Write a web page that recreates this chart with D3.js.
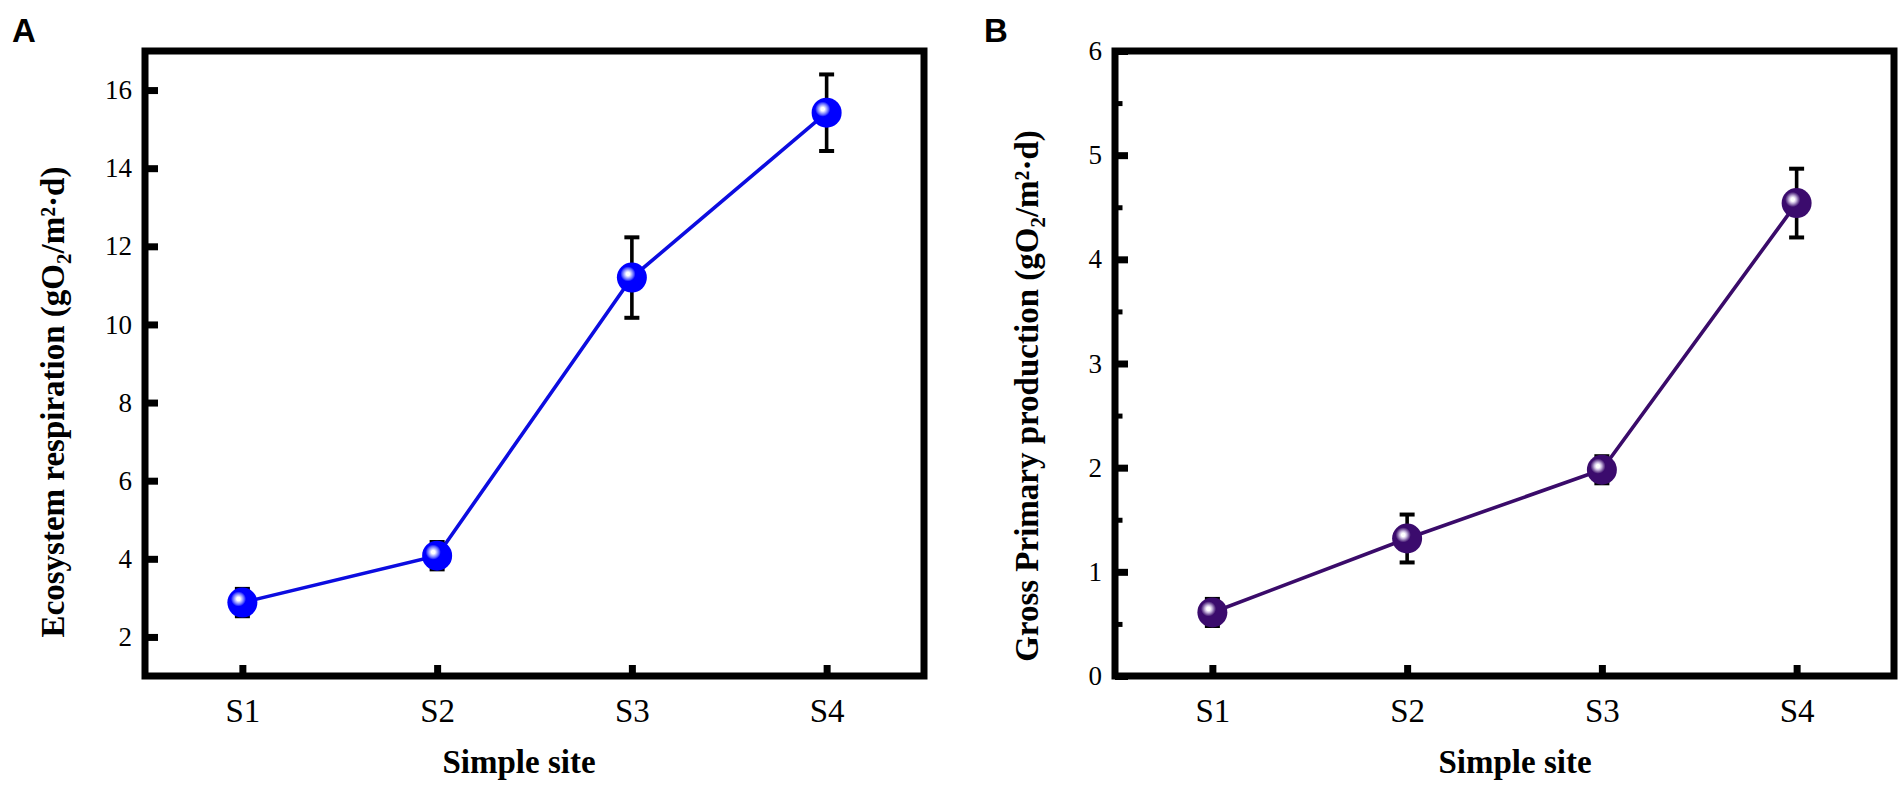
<!DOCTYPE html>
<html><head><meta charset="utf-8">
<script src="https://cdn.jsdelivr.net/npm/d3@7"></script>
<style>
body{margin:0;background:#fff;}
svg text{font-family:"Liberation Serif","Times New Roman",serif;fill:#000;}
</style>
</head><body>
<svg id="chart" width="1904" height="787"></svg>
<script>
// ---- data ----
const sites = ["S1", "S2", "S3", "S4"];
const erMean = [2.88, 4.08, 11.2, 15.42];
const erErr = [0.35, 0.35, 1.03, 0.98];
const gppMean = [0.61, 1.32, 1.98, 4.54];
const gppErr = [0.13, 0.23, 0.13, 0.33];
const erTicks = [2, 4, 6, 8, 10, 12, 14, 16];
const gppTicks = [0, 1, 2, 3, 4, 5, 6];
const gppMinorTicks = [0.5, 1.5, 2.5, 3.5, 4.5, 5.5];
const panelLetters = ["A", "B"];
const yTitles = ["Ecosystem respiration", "Gross Primary production"];
const xTitle = "Simple site";

// ---- layout / style ----
const SERIF = "Liberation Serif, Times New Roman, serif";
const panels = [
  {letter: panelLetters[0], mean: erMean, err: erErr, ticks: erTicks, minor: [],
   domain: [1, 17], left: 145, right: 924, letterX: 12,
   title: yTitles[0], titleX: 64, titleY: 402, xTitleX: 519,
   color: "#0000ff", light: "#b4b8ff", mid: "#5a60ff", line: "#0c0ce0", id: "gA"},
  {letter: panelLetters[1], mean: gppMean, err: gppErr, ticks: gppTicks, minor: gppMinorTicks,
   domain: [0, 6], left: 1115, right: 1894, letterX: 984,
   title: yTitles[1], titleX: 1038, titleY: 396, xTitleX: 1515,
   color: "#3b0b6d", light: "#cbbbe0", mid: "#7a5a9e", line: "#3a0b6a", id: "gB"}
];
const plotTop = 51, plotBottom = 676;

const svg = d3.select("#chart");
const defs = svg.append("defs");

panels.forEach(p => {
  const grad = defs.append("radialGradient").attr("id", p.id)
    .attr("cx", "0.37").attr("cy", "0.38").attr("r", "0.6")
    .attr("fx", "0.37").attr("fy", "0.38");
  grad.append("stop").attr("offset", "0").attr("stop-color", "#ffffff");
  grad.append("stop").attr("offset", "0.1").attr("stop-color", "#ffffff");
  grad.append("stop").attr("offset", "0.2").attr("stop-color", p.light);
  grad.append("stop").attr("offset", "0.32").attr("stop-color", p.mid);
  grad.append("stop").attr("offset", "0.42").attr("stop-color", p.color);
  grad.append("stop").attr("offset", "1").attr("stop-color", p.color);

  const x = d3.scalePoint().domain(sites).range([p.left, p.right]).padding(0.5);
  const y = d3.scaleLinear().domain(p.domain).range([plotBottom, plotTop]);
  const g = svg.append("g");

  // panel letter
  svg.append("text").attr("x", p.letterX).attr("y", 42)
    .attr("font-family", "Liberation Sans, Arial, sans-serif")
    .style("font-family", "Liberation Sans, Arial, sans-serif")
    .style("font-weight", "bold").style("font-size", "33px").text(p.letter);

  // y axis
  const yAxis = d3.axisLeft(y).tickValues(p.ticks).tickFormat(d3.format("d"))
    .tickSizeInner(-13).tickSizeOuter(0).tickPadding(13);
  const ya = g.append("g").attr("transform", `translate(${p.left},0)`).call(yAxis)
    .attr("font-family", SERIF).attr("font-size", 27);
  ya.select(".domain").remove();
  ya.selectAll(".tick line").attr("stroke", "#000").attr("stroke-width", 7);
  ya.selectAll(".tick text").style("font-size", "27px").style("font-family", SERIF);

  if (p.minor.length) {
    const ym = d3.axisLeft(y).tickValues(p.minor).tickFormat("")
      .tickSizeInner(-7.5).tickSizeOuter(0);
    const yma = g.append("g").attr("transform", `translate(${p.left},0)`).call(ym);
    yma.select(".domain").remove();
    yma.selectAll(".tick line").attr("stroke", "#000").attr("stroke-width", 5);
  }

  // x axis
  const xAxis = d3.axisBottom(x).tickSizeInner(-11).tickSizeOuter(0).tickPadding(23);
  const xa = g.append("g").attr("transform", `translate(0,${plotBottom})`).call(xAxis)
    .attr("font-family", SERIF).attr("font-size", 33);
  xa.select(".domain").remove();
  xa.selectAll(".tick line").attr("stroke", "#000").attr("stroke-width", 7);
  xa.selectAll(".tick text").style("font-size", "33px").style("font-family", SERIF);

  // frame
  g.append("rect").attr("x", p.left).attr("y", plotTop)
    .attr("width", p.right - p.left).attr("height", plotBottom - plotTop)
    .attr("fill", "none").attr("stroke", "#000").attr("stroke-width", 7);

  // line
  const pts = sites.map((s, i) => ({s, v: p.mean[i], e: p.err[i]}));
  g.append("path").datum(pts)
    .attr("d", d3.line().x(d => x(d.s)).y(d => y(d.v)))
    .attr("fill", "none").attr("stroke", p.line).attr("stroke-width", 3.6);

  // error bars
  const eb = g.append("g").selectAll("g").data(pts).join("g");
  eb.append("line").attr("x1", d => x(d.s)).attr("x2", d => x(d.s))
    .attr("y1", d => y(d.v - d.e)).attr("y2", d => y(d.v + d.e))
    .attr("stroke", "#000").attr("stroke-width", 3.6);
  eb.append("line").attr("x1", d => x(d.s) - 7.5).attr("x2", d => x(d.s) + 7.5)
    .attr("y1", d => y(d.v + d.e)).attr("y2", d => y(d.v + d.e))
    .attr("stroke", "#000").attr("stroke-width", 4);
  eb.append("line").attr("x1", d => x(d.s) - 7.5).attr("x2", d => x(d.s) + 7.5)
    .attr("y1", d => y(d.v - d.e)).attr("y2", d => y(d.v - d.e))
    .attr("stroke", "#000").attr("stroke-width", 4);

  // markers
  g.append("g").selectAll("circle").data(pts).join("circle")
    .attr("cx", d => x(d.s)).attr("cy", d => y(d.v)).attr("r", 15)
    .attr("fill", `url(#${p.id})`);

  // y title
  const yt = svg.append("text")
    .attr("transform", `translate(${p.titleX},${p.titleY}) rotate(-90)`)
    .attr("text-anchor", "middle").attr("font-family", SERIF)
    .style("font-weight", "bold").style("font-size", "33px");
  yt.append("tspan").text(p.title + " (gO");
  yt.append("tspan").attr("dy", 7).style("font-size", "21px").text("2");
  yt.append("tspan").attr("dy", -7).text("/m\u00B2\u00B7d)");

  // x title
  svg.append("text").attr("x", p.xTitleX).attr("y", 773).attr("text-anchor", "middle")
    .attr("font-family", SERIF)
    .style("font-weight", "bold").style("font-size", "33px").text(xTitle);
});
</script>
</body></html>
